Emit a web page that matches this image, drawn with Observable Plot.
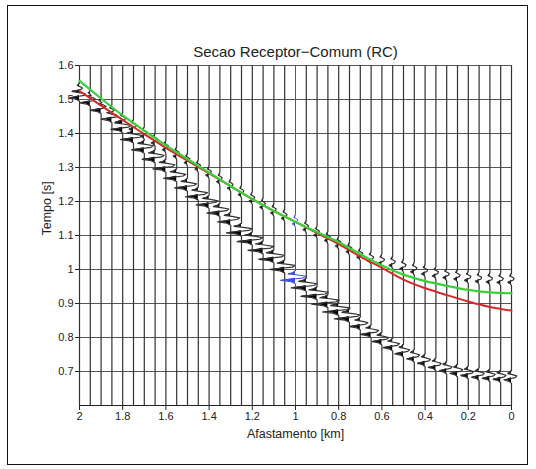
<!DOCTYPE html>
<html><head><meta charset="utf-8">
<script src="https://cdn.jsdelivr.net/npm/d3@7"></script>
<script src="https://cdn.jsdelivr.net/npm/@observablehq/plot@0.6"></script>
<style>
body{margin:0;background:#fff;}
#wrap{position:relative;width:536px;height:469px;font-family:"Liberation Sans",Arial,sans-serif;}
#frame{position:absolute;left:7px;top:5px;width:519px;height:458px;border:1.5px solid #111;pointer-events:none;}
#chart{position:absolute;left:0;top:0;}
</style></head><body>
<div id="wrap"><div id="chart"></div><div id="frame"></div></div>
<script>
// Trace offsets (km)
const traceOffsets = [2, 1.95, 1.9, 1.85, 1.8, 1.75, 1.7, 1.65, 1.6, 1.55, 1.5, 1.45, 1.4, 1.35, 1.3, 1.25, 1.2, 1.15, 1.1, 1.05, 1, 0.95, 0.9, 0.85, 0.8, 0.75, 0.7, 0.65, 0.6, 0.55, 0.5, 0.45, 0.4, 0.35, 0.3, 0.25, 0.2, 0.15, 0.1, 0.05, 0];
// Strong event (lower diagonal) time per trace (s)
const mainTimes = [1.505, 1.49, 1.468, 1.442, 1.412, 1.382, 1.352, 1.324, 1.296, 1.268, 1.24, 1.214, 1.19, 1.166, 1.14, 1.108, 1.082, 1.056, 1.03, 1.0, 0.968, 0.946, 0.921, 0.898, 0.875, 0.855, 0.832, 0.809, 0.788, 0.77, 0.752, 0.737, 0.724, 0.712, 0.702, 0.694, 0.688, 0.683, 0.68, 0.677, 0.675];
// Strong event amplitude per trace (km of deflection)
const mainAmps = [0.045, 0.05, 0.05, 0.05, 0.055, 0.06, 0.06, 0.06, 0.06, 0.06, 0.06, 0.06, 0.06, 0.06, 0.06, 0.07, 0.07, 0.07, 0.07, 0.07, 0.07, 0.07, 0.075, 0.075, 0.075, 0.07, 0.05, 0.05, 0.045, 0.045, 0.04, 0.035, 0.035, 0.035, 0.035, 0.035, 0.035, 0.035, 0.035, 0.035, 0.035];
// Weak event (along the curves) time per trace (s)
const weakTimes = [1.522, 1.5, 1.478, 1.456, 1.434, 1.413, 1.392, 1.372, 1.352, 1.333, 1.314, 1.295, 1.277, 1.258, 1.239, 1.22, 1.201, 1.183, 1.166, 1.15, 1.134, 1.117, 1.101, 1.085, 1.069, 1.052, 1.036, 1.025, 1.018, 1.012, 1.002, 0.993, 0.987, 0.981, 0.976, 0.972, 0.968, 0.965, 0.963, 0.962, 0.962];
const weakAmps = [0.02, 0.02, 0.02, 0.02, 0.02, 0.02, 0.018, 0.018, 0.016, 0.016, 0.015, 0.015, 0.015, 0.015, 0.015, 0.015, 0.015, 0.015, 0.015, 0.015, 0.015, 0.015, 0.015, 0.015, 0.015, 0.015, 0.016, 0.017, 0.017, 0.017, 0.017, 0.017, 0.017, 0.017, 0.017, 0.017, 0.017, 0.017, 0.017, 0.017, 0.017];
// Wavelet shape: time from peak (s) and relative amplitude
const waveletDt  = [-0.010, -0.004, 0, 0.003, 0.007, 0.012, 0.016, 0.019, 0.022, 0.028];
const waveletAmp = [0, 0.3, 1.0, 0.4, -0.5, -0.7, -0.1, 0.5, 0.2, 0];
// Traveltime curves
const curveOffsets = [2, 1.9, 1.8, 1.7, 1.6, 1.5, 1.4, 1.3, 1.2, 1.1, 1, 0.9, 0.8, 0.7, 0.6, 0.5, 0.4, 0.3, 0.2, 0.1, 0];
const greenTimes = [1.555, 1.503, 1.453, 1.408, 1.365, 1.325, 1.285, 1.245, 1.207, 1.172, 1.14, 1.11, 1.08, 1.045, 1.012, 0.985, 0.966, 0.952, 0.94, 0.933, 0.93];
const redTimes   = [1.525, 1.482, 1.44, 1.398, 1.358, 1.32, 1.283, 1.245, 1.207, 1.172, 1.14, 1.107, 1.075, 1.038, 1.005, 0.97, 0.945, 0.925, 0.906, 0.89, 0.879];
// Axes
const xTicks = [2, 1.8, 1.6, 1.4, 1.2, 1, 0.8, 0.6, 0.4, 0.2, 0];
const yTicks = [0.7, 0.8, 0.9, 1, 1.1, 1.2, 1.3, 1.4, 1.5, 1.6];
const markedTrace = 1;

const wavelet = d3.scaleLinear().domain(waveletDt).range(waveletAmp).clamp(true);
const wiggle = [];
traceOffsets.forEach((x0, i) => {
  const events = [[mainTimes[i], mainAmps[i]], [weakTimes[i], weakAmps[i]]];
  const ts = [0.6, 1.6];
  events.forEach(([te]) => waveletDt.forEach(dt => ts.push(te + dt)));
  ts.sort((a, b) => a - b);
  ts.forEach(t => {
    let a = 0;
    events.forEach(([te, amp]) => { a += amp * wavelet(t - te); });
    wiggle.push({base: x0, t, a});
  });
});
const curves = curveOffsets.map((x, i) => ({x, green: greenTimes[i], red: redTimes[i]}));
const fmt = d => String(Math.round(d * 10) / 10);
const blue = "#3b4fe0";

const chart = Plot.plot({
  width: 536, height: 469,
  marginLeft: 79, marginRight: 25, marginTop: 65, marginBottom: 64,
  x: {domain: [2, 0]},
  y: {domain: [0.6, 1.6]},
  style: {fontFamily: "'Liberation Sans', Arial, sans-serif", fontSize: "11px", color: "#222", background: "white"},
  marks: [
    Plot.ruleY(yTicks, {stroke: "#555", strokeWidth: 1.2}),
    Plot.areaX(wiggle, {y: "t", x1: "base", x2: d => d.base + Math.max(0, d.a), z: "base",
      fill: d => d.base === markedTrace ? blue : "#000"}),
    Plot.line(wiggle, {x: d => d.base + d.a, y: "t", z: "base",
      stroke: d => d.base === markedTrace ? blue : "#333", strokeWidth: d => d.base === markedTrace ? 1 : 1.2}),
    Plot.line(curves, {x: "x", y: "red", stroke: "#d42a2a", strokeWidth: 2, curve: "natural"}),
    Plot.line(curves, {x: "x", y: "green", stroke: "#38d13a", strokeWidth: 2.2, curve: "natural"}),
    Plot.ruleY([0.6], {stroke: "#222", strokeWidth: 1.2}),
    Plot.axisX({ticks: xTicks, tickFormat: fmt, tickSize: 5, tickPadding: 2, label: null}),
    Plot.axisY({ticks: yTicks, tickFormat: fmt, tickSize: 4, tickPadding: 2, label: null}),
    Plot.text(["Afastamento [km]"], {frameAnchor: "bottom", lineAnchor: "middle", dy: 28, fontSize: 12.5, fill: "#222"}),
    Plot.text(["Tempo [s]"], {frameAnchor: "left", lineAnchor: "middle", dx: -33, rotate: -90, fontSize: 12.5, fill: "#222"}),
    Plot.text(["Secao Receptor\u2212Comum (RC)"], {frameAnchor: "top", lineAnchor: "middle", dy: -13, fontSize: 15, fill: "#222"})
  ]
});
document.getElementById("chart").appendChild(chart);
</script>
</body></html>
